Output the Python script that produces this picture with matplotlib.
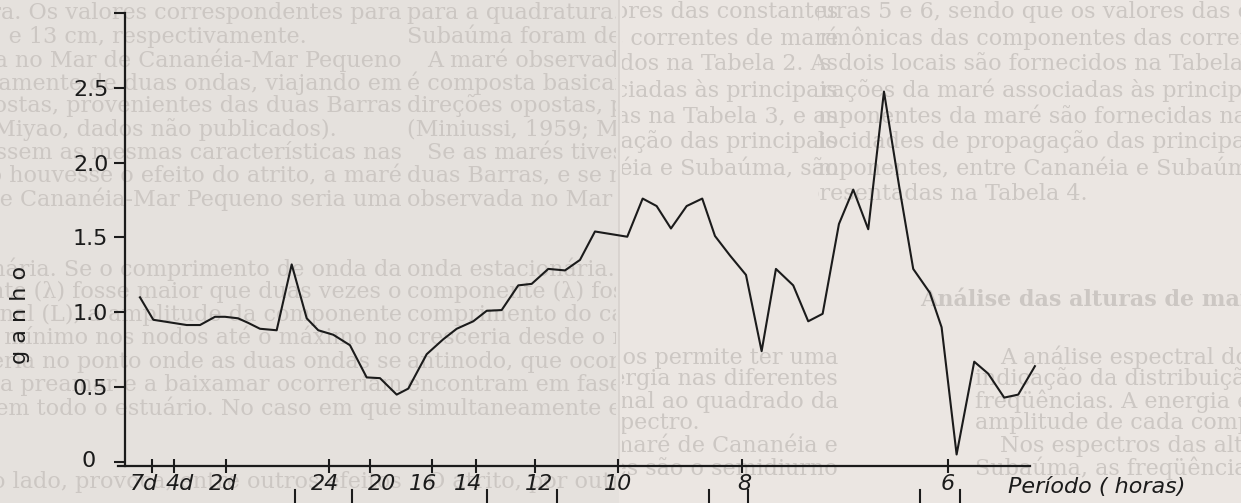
import matplotlib

matplotlib.use("Agg")

import matplotlib.pyplot as plt
from matplotlib.lines import Line2D
from matplotlib.patches import Rectangle
from matplotlib.transforms import Bbox, ScaledTranslation, TransformedBbox

# gain spectrum: frequency in cycles per hour
freq = [0.00353, 0.00622, 0.01296, 0.01565, 0.01868, 0.02069, 0.02332, 0.02534,
        0.02776, 0.03113, 0.03416, 0.03719, 0.03953, 0.04256, 0.04593, 0.04930,
        0.05199, 0.05536, 0.05770, 0.06142, 0.06477, 0.06748, 0.07083, 0.07353,
        0.07656, 0.07991, 0.08262, 0.08597, 0.08934, 0.09237, 0.09540, 0.10192,
        0.10503, 0.10785, 0.11074, 0.11391, 0.11706, 0.11963, 0.12265, 0.12589,
        0.12905, 0.13194, 0.13543, 0.13846, 0.14137, 0.14466, 0.14755, 0.15058,
        0.15375, 0.15683, 0.15966, 0.16303, 0.16539, 0.16842, 0.17198, 0.17480,
        0.17803, 0.18086, 0.18423]
ganho = [1.10, 0.95, 0.915, 0.915, 0.97, 0.97, 0.96, 0.93,
         0.89, 0.88, 1.32, 0.96, 0.88, 0.85, 0.78, 0.565,
         0.56, 0.45, 0.49, 0.72, 0.82, 0.89, 0.94, 1.01,
         1.015, 1.18, 1.19, 1.29, 1.28, 1.35, 1.54, 1.505,
         1.76, 1.71, 1.56, 1.71, 1.76, 1.51, 1.38, 1.25,
         0.74, 1.29, 1.18, 0.94, 0.99, 1.59, 1.82, 1.555,
         2.475, 1.84, 1.29, 1.13, 0.90, 0.05, 0.67, 0.59,
         0.43, 0.45, 0.64]

periodos = [168, 96, 48, 24, 20, 16, 14, 12, 10, 8, 6]
periodo_labels = ["7d", "4d", "2d", "24", "20", "16", "14", "12", "10", "8", "6"]
ganho_ticks = [0, 0.5, 1.0, 1.5, 2.0, 2.5, 3.0]
ganho_labels = ["0", "0.5", "1.0", "1.5", "2.0", "2.5", ""]

# text of the facing page showing through the paper
coluna_esq = [
    (13, "para a quadratura. Os valores correspondentes para", 0, 402),
    (36, "Subaúma foram de 97 e 13 cm, respectivamente.", 0, 307),
    (60, "A maré observada no Mar de Cananéia-Mar Pequeno", 20, 402),
    (83, "é composta basicamente de duas ondas, viajando em", 0, 402),
    (106, "direções opostas, provenientes das duas Barras", 0, 402),
    (130, "(Miniussi, 1959; Miyao, dados não publicados).", 0, 337),
    (153, "Se as marés tivessem as mesmas características nas", 20, 402),
    (176, "duas Barras, e se não houvesse o efeito do atrito, a maré", 0, 402),
    (199, "observada no Mar de Cananéia-Mar Pequeno seria uma", 0, 402),
    (269, "onda estacionária. Se o comprimento de onda da", 0, 402),
    (292, "componente (λ) fosse maior que duas vezes o", 0, 402),
    (315, "comprimento do canal (L), a amplitude da componente", 0, 402),
    (338, "cresceria desde o mínimo nos nodos até o máximo no", 0, 402),
    (362, "antinodo, que ocorreria no ponto onde as duas ondas se", 0, 402),
    (385, "encontram em fase, a preamar e a baixamar ocorreriam", 0, 402),
    (408, "simultaneamente em todo o estuário. No caso em que", 0, 402),
    (482, "O atrito, por outro lado, provoca, entre outros efeitos", 20, 402),
]
coluna_dir = [
    (12, "figuras 5 e 6, sendo que os valores das constantes", 792, 838),
    (38, "harmônicas das componentes das correntes de maré", 792, 838),
    (64, "nos dois locais são fornecidos na Tabela 2. As", 792, 838),
    (90, "durações da maré associadas às principais", 792, 838),
    (116, "componentes da maré são fornecidas na Tabela 3, e as", 792, 838),
    (142, "velocidades de propagação das principais", 792, 838),
    (168, "componentes, entre Cananéia e Subaúma, são", 792, 838),
    (194, "apresentadas na Tabela 4.", 792, None),
    (357, "A análise espectral dos dados permite ter uma", 1000, 838),
    (379, "indicação da distribuição relativa de energia nas diferentes", 975, 838),
    (401, "freqüências. A energia é proporcional ao quadrado da", 975, 838),
    (423, "amplitude de cada componente do espectro.", 975, 700),
    (445, "Nos espectros das alturas de maré de Cananéia e", 1000, 838),
    (468, "Subaúma, as freqüências predominantes são o semidiurno", 975, 838),
]
titulo_secao = "Análise das alturas de maré"

W, H = 1241, 503
INK = "#1b1b1b"
GHOST = "#ccc7c3"

fig = plt.figure(figsize=(W / 100, H / 100), dpi=100)
fig.patch.set_facecolor("#ebe6e2")

# paper layer in pixel coordinates
bg = fig.add_axes([0, 0, 1, 1], zorder=-5)
bg.set_xlim(0, W)
bg.set_ylim(H, 0)
bg.axis("off")
bg.add_patch(Rectangle((0, 0), 619, H, color="#e5e1dd", lw=0))
bg.add_patch(Rectangle((619, 0), W - 619, H, color="#ebe6e2", lw=0))
bg.plot([619, 619], [0, 463], color="#d6d1cd", lw=1.2)


def ghost(x, y, s, x0, x1, ha="left", weight="normal"):
    t = bg.text(x, y, s, ha=ha, va="center", fontsize=16, color=GHOST,
                family="DejaVu Serif", weight=weight)
    t.set_clip_box(TransformedBbox(Bbox.from_extents(x0, 0, x1, H), bg.transData))
    t.set_clip_on(True)


for y, s, indent, tail in coluna_esq:
    ghost(407 + indent, y, s, 405, 616)
    ghost(tail, y, s, 0, 404, ha="right")

for y, s, head, tail in coluna_dir:
    ghost(head, y, s, 818, W)
    if tail is not None:
        ghost(tail, y, s, 622, 838, ha="right")
ghost(920, 300, titulo_secao, 818, W, weight="bold")

# the chart
ax = fig.add_axes([118 / W, 37 / H, 912 / W, 453 / H])
ax.set_facecolor("none")
ax.plot(freq, ganho, color=INK, lw=1.5, clip_on=False)
ax.set_xlim(-0.00091, 0.18324)
ax.set_ylim(-0.027, 3.0)

for side in ["top", "right"]:
    ax.spines[side].set_visible(False)
ax.spines["left"].set_position(("data", 0.0005))
for side in ["left", "bottom"]:
    ax.spines[side].set_color(INK)
    ax.spines[side].set_linewidth(1.6)

ax.set_xticks([1 / p for p in periodos])
ax.set_xticklabels(periodo_labels, style="italic")
ax.set_yticks(ganho_ticks)
ax.set_yticklabels(ganho_labels)
ax.tick_params(axis="x", direction="inout", length=10, width=1.5, pad=1,
               labelsize=16, colors=INK)
ax.tick_params(axis="y", direction="out", length=8, width=1.5, pad=4,
               labelsize=16, colors=INK)

# hand-lettered labels sit a little off their ticks
x_shift = [-8, 6, -3, -4, 12, -9, -8, 4, 0, 3, 0]
for lbl, dx in zip(ax.get_xticklabels(), x_shift):
    lbl.set_transform(lbl.get_transform() + ScaledTranslation(dx / 100, 0, fig.dpi_scale_trans))
zero = ax.get_yticklabels()[0]
zero.set_transform(zero.get_transform() + ScaledTranslation(-0.13, 0.03, fig.dpi_scale_trans))

fig.text(1008 / W, 1 - 487 / H, "Período ( horas)", ha="left", va="center",
         fontsize=16, style="italic", color=INK)

fig.text(20 / W, 1 - 315 / H, "g a n h o", rotation=90, ha="center",
         va="center", fontsize=16, color=INK)

# ticks of the next figure peeking in at the bottom edge
for x in [295, 352, 487, 557, 709, 748, 920, 960]:
    fig.add_artist(Line2D([x / W, x / W], [0, 13 / H], color=INK, lw=1.5))

fig.savefig("out.png", dpi=100, facecolor=fig.get_facecolor())
